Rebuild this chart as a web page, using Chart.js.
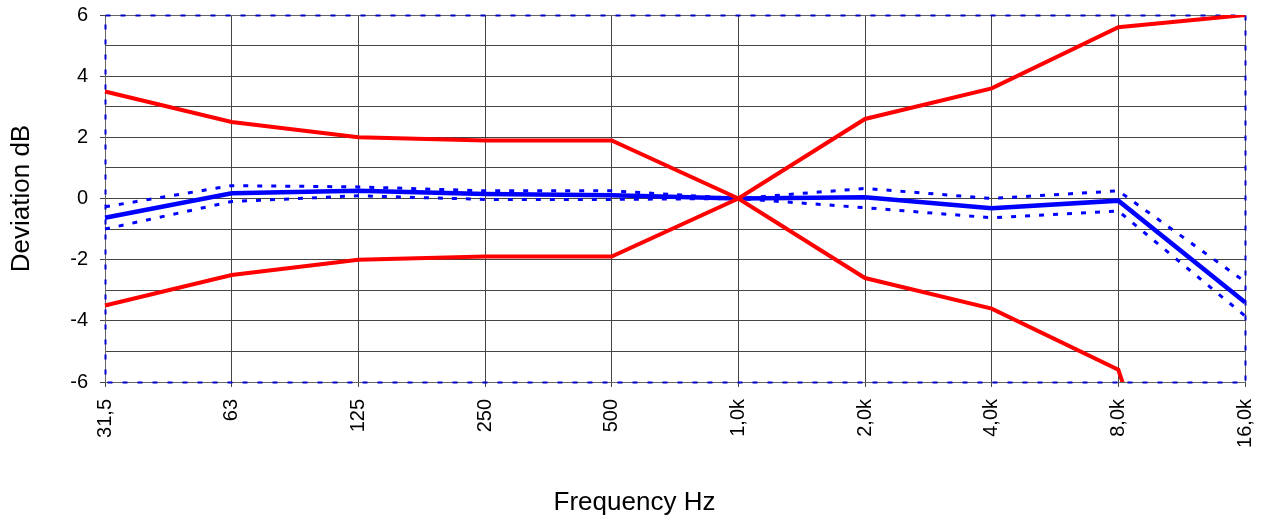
<!DOCTYPE html>
<html lang="en">
<head>
  <meta charset="UTF-8" />
  <title>Frequency response deviation</title>
  <style>
    body { margin: 0; background: #fff; }
    canvas { display: block; }
  </style>
</head>
<body>
  <canvas id="grafica" width="1269" height="519"></canvas>

  <script src="https://cdn.jsdelivr.net/npm/chart.js"></script>
  <script>
    // frequency bands
    const bandas = ["31,5", "63", "125", "250", "500", "1,0k", "2,0k", "4,0k", "8,0k", "16,0k"];
    // tolerance limits (red), crossing at 1 kHz
    const limiteA = [3.5, 2.5, 2.0, 1.9, 1.9, 0, -2.6, -3.6, -5.6, -18];
    const limiteB = [-3.5, -2.5, -2.0, -1.9, -1.9, 0, 2.6, 3.6, 5.6, 6.0];
    // measured deviation (blue) and its spread
    const respuesta = [-0.63, 0.17, 0.25, 0.15, 0.11, 0, 0.04, -0.32, -0.07, -3.39];
    const respuestaMax = [-0.27, 0.42, 0.38, 0.25, 0.25, 0, 0.33, 0.0, 0.25, -2.72];
    const respuestaMin = [-1.0, -0.1, 0.09, -0.03, -0.03, 0, -0.3, -0.63, -0.41, -3.84];
    const yTicks = [-6, -4, -2, 0, 2, 4, 6];

    const fuente = "'Liberation Sans', Arial, sans-serif";

    // dashed blue frame around the plot area
    const marco = {
      id: "marco",
      beforeDatasetsDraw(chart) {
        const a = chart.chartArea;
        const ctx = chart.ctx;
        ctx.save();
        ctx.lineWidth = 1;
        ctx.strokeStyle = "#666";
        ctx.strokeRect(a.left + 0.5, a.top + 0.5, a.width, a.height);
        ctx.lineWidth = 2;
        ctx.strokeStyle = "#0000c8";
        ctx.setLineDash([5, 10]);
        ctx.strokeRect(a.left + 0.5, a.top + 0.5, a.width, a.height);
        ctx.restore();
      }
    };

    function serie(datos, color, ancho, dash) {
      return {
        data: datos,
        borderColor: color,
        borderWidth: ancho,
        borderDash: dash || [],
        pointRadius: 0,
        tension: 0,
        fill: false
      };
    }

    new Chart(document.getElementById("grafica").getContext("2d"), {
      type: "line",
      data: {
        labels: bandas,
        datasets: [
          serie(limiteA, "#ff0000", 4),
          serie(limiteB, "#ff0000", 4),
          serie(respuesta, "#0000ff", 4.5),
          serie(respuestaMax, "#0000ff", 3, [5, 9]),
          serie(respuestaMin, "#0000ff", 3, [5, 9])
        ]
      },
      options: {
        responsive: false,
        animation: false,
        devicePixelRatio: 1,
        layout: { padding: { top: 15, right: 0, left: 0, bottom: 0 } },
        plugins: {
          legend: { display: false },
          tooltip: { enabled: false },
          // x title is centred on the whole picture, so use the chart title at the bottom
          title: {
            display: true, position: "bottom", text: "Frequency Hz", color: "#000",
            font: { family: fuente, size: 26, weight: "normal" }, padding: { top: 0, bottom: 1 }
          }
        },
        scales: {
          x: {
            offset: false,
            border: { display: false },
            grid: { color: "#444", lineWidth: 1, tickLength: 5, tickColor: "#444" },
            ticks: {
              minRotation: 90, maxRotation: 90, padding: 12,
              color: "#000", font: { family: fuente, size: 20 }
            },
            afterFit(scale) {
              scale.height = 104.8;
              scale.paddingLeft = 0;
              scale.paddingRight = 24;
            }
          },
          y: {
            min: -6, max: 6,
            border: { display: false },
            grid: {
              color: "#444", lineWidth: 1, tickLength: 5,
              tickColor: c => yTicks.includes(c.tick.value) ? "#444" : "rgba(0,0,0,0)"
            },
            ticks: {
              stepSize: 1, padding: 12, color: "#000",
              font: { family: fuente, size: 20 },
              callback: v => yTicks.includes(v) ? String(v) : ""
            },
            title: {
              display: true, text: "Deviation dB", color: "#000",
              font: { family: fuente, size: 26 }, padding: { top: 6, bottom: 0 }
            },
            afterFit(scale) {
              scale.width = 105;
              scale.paddingTop = 0;
              scale.paddingBottom = 0;
            }
          }
        }
      },
      plugins: [marco]
    });
  </script>
</body>
</html>
